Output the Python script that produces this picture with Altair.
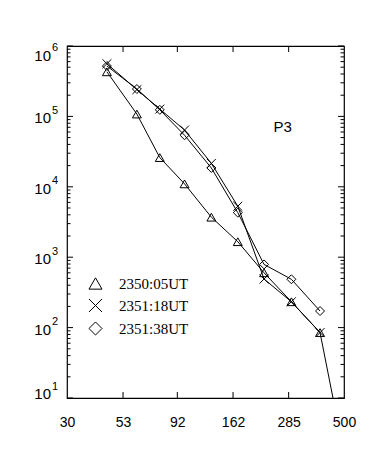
import altair as alt
import pandas as pd

# ---- data ----
series_names = ["2350:05UT", "2351:18UT", "2351:38UT"]
energy = [45, 61, 77, 99, 130, 170, 222, 293, 392]
energy_tail = 520
flux_a = [4.3e5, 1.08e5, 2.6e4, 1.1e4, 3.7e3, 1.66e3, 600, 233, 85]
flux_a_tail = 0.86
flux_b = [5.6e5, 2.4e5, 1.27e5, 6.4e4, 2.15e4, 5.3e3, 490, 233, 85]
flux_c = [5.2e5, 2.45e5, 1.24e5, 5.4e4, 1.85e4, 4.3e3, 790, 486, 172]

x_ticks = [53, 92, 162, 285]
x_labels = [30, 53, 92, 162, 285, 500]
y_major = [10, 100, 1000, 10000, 100000, 1000000]
y_exponent = ["1", "2", "3", "4", "5", "6"]
y_minor = [m * 10 ** n for n in range(1, 6) for m in range(2, 10)]
note_x = [268]
note_y = [7.0e4]
note_text = ["P3"]

W, H = 277, 352

rows = []
for name, fl in zip(series_names, [flux_a, flux_b, flux_c]):
    for e, f in zip(energy, fl):
        rows.append({"series": name, "e": e, "f": f})
rows.append({"series": series_names[0], "e": energy_tail, "f": flux_a_tail})
df = pd.DataFrame(rows)

xs = alt.Scale(type="log", domain=[30, 500], nice=False)
ys = alt.Scale(type="log", domain=[10, 1e6], nice=False)

lines = alt.Chart(df).mark_line(color="black", strokeWidth=1, clip=True).encode(
    x=alt.X("e:Q", scale=xs, axis=alt.Axis(values=x_labels, title=None, grid=False,
                                           ticks=False, domain=False, labelFontSize=14,
                                           labelFont="Liberation Sans", labelColor="black",
                                           labelPadding=17, labelFlush=False,
                                           format="d")),
    y=alt.Y("f:Q", scale=ys, axis=None),
    detail="series:N",
    order="e:Q",
)

points = alt.Chart(df).mark_point(color="black", filled=False, strokeWidth=1, size=80,
                                  clip=True, opacity=1).encode(
    x=alt.X("e:Q", scale=xs),
    y=alt.Y("f:Q", scale=ys),
    shape=alt.Shape("series:N",
                    scale=alt.Scale(domain=series_names,
                                    range=["triangle-up", "M-1,-1L1,1M1,-1L-1,1", "diamond"]),
                    legend=alt.Legend(title=None, orient="none", legendX=21, legendY=230,
                                      symbolSize=170, symbolStrokeColor="black",
                                      symbolStrokeWidth=1, symbolFillColor="transparent",
                                      labelFont="Liberation Serif, Times New Roman, serif",
                                      labelFontSize=15,
                                      labelColor="black", labelOffset=16, rowPadding=4,
                                      padding=0)),
)

xt = pd.DataFrame({"e": x_ticks})
xt_bottom = alt.Chart(xt).mark_rule(color="black", strokeWidth=1).encode(
    x=alt.X("e:Q", scale=xs), y=alt.value(H), y2=alt.value(H - 6))
xt_top = alt.Chart(xt).mark_rule(color="black", strokeWidth=1).encode(
    x=alt.X("e:Q", scale=xs), y=alt.value(0), y2=alt.value(6))

ym = pd.DataFrame({"f": y_major, "p": y_exponent})
yn = pd.DataFrame({"f": y_minor})
ym_left = alt.Chart(ym).mark_rule(color="black", strokeWidth=1).encode(
    y=alt.Y("f:Q", scale=ys), x=alt.value(0), x2=alt.value(6))
ym_right = alt.Chart(ym).mark_rule(color="black", strokeWidth=1).encode(
    y=alt.Y("f:Q", scale=ys), x=alt.value(W), x2=alt.value(W - 6))
yn_left = alt.Chart(yn).mark_rule(color="black", strokeWidth=1).encode(
    y=alt.Y("f:Q", scale=ys), x=alt.value(0), x2=alt.value(3.5))
yn_right = alt.Chart(yn).mark_rule(color="black", strokeWidth=1).encode(
    y=alt.Y("f:Q", scale=ys), x=alt.value(W), x2=alt.value(W - 3.5))

# y tick labels: "10" plus a raised exponent; end labels kept inside the frame
label_layers = []
groups = [
    ("datum.f > 100000", 9.5, 2),
    ("datum.f < 100", -4, -11.5),
    ("datum.f >= 100 && datum.f <= 100000", 2, -5.5),
]
for cond, dy_base, dy_exp in groups:
    base = alt.Chart(ym).transform_filter(cond).mark_text(
        font="Liberation Sans", fontSize=15, color="black", align="right",
        baseline="middle", dy=dy_base).encode(
        y=alt.Y("f:Q", scale=ys), x=alt.value(-16), text=alt.value("10"))
    expo = alt.Chart(ym).transform_filter(cond).mark_text(
        font="Liberation Sans", fontSize=11, color="black", align="left",
        baseline="middle", dy=dy_exp).encode(
        y=alt.Y("f:Q", scale=ys), x=alt.value(-15), text="p:N")
    label_layers += [base, expo]

note = alt.Chart(pd.DataFrame({"e": note_x, "f": note_y, "t": note_text})).mark_text(
    font="Liberation Sans", fontSize=15, color="black", align="center", baseline="middle").encode(
    x=alt.X("e:Q", scale=xs), y=alt.Y("f:Q", scale=ys), text="t:N")

chart = alt.layer(lines, points, xt_bottom, xt_top, ym_left, ym_right, yn_left, yn_right,
                  note, *label_layers).properties(
    width=W, height=H,
    autosize=alt.AutoSizeParams(type="none"),
    padding={"left": 59, "top": 38, "right": 22, "bottom": 63},
    background="white",
).configure_view(stroke="black", strokeWidth=1.2)

chart.save("out.html", embed_options={"renderer": "svg", "actions": False})
